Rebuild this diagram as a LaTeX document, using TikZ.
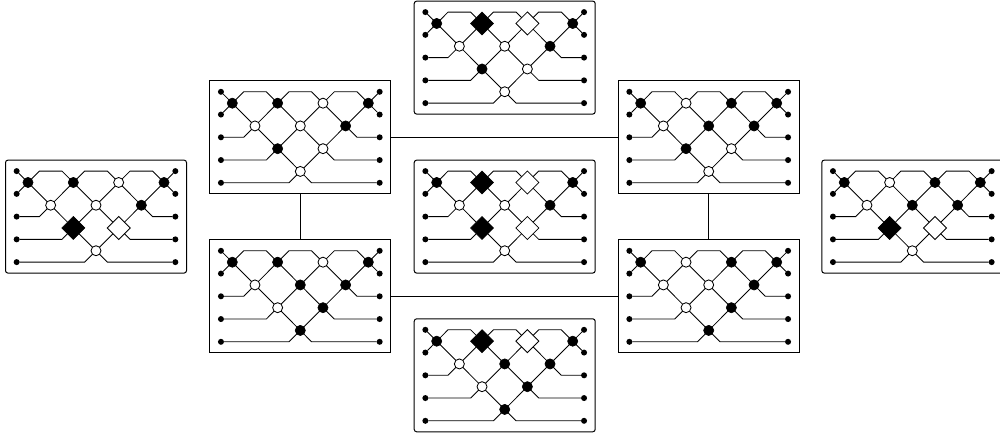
\documentclass[tikz,border=0pt]{standalone}
\usetikzlibrary{shapes.geometric}
\tikzset{
  wire/.style={line width=0.85pt,draw=black},
  panel/.style={draw=black,line width=1pt,fill=none,rectangle,minimum width=181pt,minimum height=113pt,inner sep=0pt,outer sep=0pt},
  sq/.style={panel},
  rd/.style={panel,rounded corners=2.5pt},
  term/.style={circle,fill=black,draw=none,minimum size=6pt,inner sep=0pt,outer sep=0pt},
  bv/.style={circle,fill=black,draw=black,line width=0.6pt,minimum size=10.2pt,inner sep=0pt,outer sep=0pt},
  wv/.style={circle,fill=white,draw=black,line width=0.85pt,minimum size=10pt,inner sep=0pt,outer sep=0pt},
  bd/.style={diamond,aspect=1,fill=black,draw=black,line width=0.6pt,minimum size=23pt,inner sep=0pt,outer sep=0pt},
  wd/.style={diamond,aspect=1,fill=white,draw=black,line width=0.85pt,minimum size=23pt,inner sep=0pt,outer sep=0pt},
}
\def\vxlist{{-3,-1,1,3,-2,0,2,-1,1,0}}
\def\vylist{{.5,.5,.5,.5,1.5,1.5,1.5,2.5,2.5,3.5}}
% #1 name, #2 centre x, #3 box top y, #4 box style, #5 ten vertex styles
\newcommand{\gadget}[5]{%
\begin{scope}[shift={(#2,#3+11.1)},x=22.67pt,y=-22.75pt]
  \node[#4] (#1) at (0,2) {};
  \foreach \s [count=\i] in {#5}{%
    \pgfmathsetmacro\px{\vxlist[\i-1]}%
    \pgfmathsetmacro\py{\vylist[\i-1]}%
    \node[\s] (#1v\i) at (\px,\py) {};
  }
  \foreach \r in {0,...,4}{%
    \node[term] (#1L\r) at (-3.5,\r) {};
    \node[term] (#1R\r) at (3.5,\r) {};
  }
  \foreach \n/\x/\y in {a/-2.5/0,b/-1.5/0,c/-.5/0,d/.5/0,e/1.5/0,f/2.5/0,
      g/-2.5/2,h/-1.5/3,i/-.5/4,j/2.5/2,k/1.5/3,l/.5/4}{%
    \coordinate (#1\n) at (\x,\y);
  }
  \foreach \p/\q in {1/5,2/5,2/6,3/6,3/7,4/7,5/8,6/8,6/9,7/9,8/10,9/10}{%
    \draw[wire] (#1v\p) -- (#1v\q);
  }
  \draw[wire] (#1L0) -- (#1v1);
  \draw[wire] (#1L1) -- (#1v1);
  \draw[wire] (#1R0) -- (#1v4);
  \draw[wire] (#1R1) -- (#1v4);
  \draw[wire] (#1v1) -- (#1a) -- (#1b) -- (#1v2);
  \draw[wire] (#1v2) -- (#1c) -- (#1d) -- (#1v3);
  \draw[wire] (#1v3) -- (#1e) -- (#1f) -- (#1v4);
  \draw[wire] (#1L2) -- (#1g) -- (#1v5);
  \draw[wire] (#1L3) -- (#1h) -- (#1v8);
  \draw[wire] (#1L4) -- (#1i) -- (#1v10);
  \draw[wire] (#1R2) -- (#1j) -- (#1v7);
  \draw[wire] (#1R3) -- (#1k) -- (#1v9);
  \draw[wire] (#1R4) -- (#1l) -- (#1v10);
\end{scope}}
\begin{document}
\begin{tikzpicture}[x=1pt,y=-1pt]
\useasboundingbox (0,0) rectangle (1000,437);
\clip (0,0) rectangle (1000,437);
\gadget{W}{96}{160}{rd}{bv,bv,wv,bv,wv,wv,bv,bd,wd,wv}
\gadget{A}{300.3}{80.7}{sq}{bv,bv,wv,bv,wv,wv,bv,bv,wv,wv}
\gadget{B}{300.3}{239.7}{sq}{bv,bv,wv,bv,wv,bv,bv,wv,bv,bv}
\gadget{N}{504.7}{1}{rd}{bv,bd,wd,bv,wv,wv,bv,bv,wv,wv}
\gadget{M}{504.7}{160}{rd}{bv,bd,wd,bv,wv,wv,bv,bd,wd,wv}
\gadget{S}{504.7}{318.7}{rd}{bv,bd,wd,bv,wv,bv,bv,wv,bv,bv}
\gadget{C}{708.7}{80.7}{sq}{bv,wv,bv,bv,wv,bv,bv,bv,wv,wv}
\gadget{D}{708.7}{239.7}{sq}{bv,wv,bv,bv,wv,wv,bv,wv,bv,bv}
\gadget{E}{912.3}{160}{rd}{bv,wv,bv,bv,wv,bv,bv,bd,wd,wv}
\draw[wire] (A) -- (C);
\draw[wire] (B) -- (D);
\draw[wire] (A) -- (B);
\draw[wire] (C) -- (D);
\end{tikzpicture}
\end{document}
